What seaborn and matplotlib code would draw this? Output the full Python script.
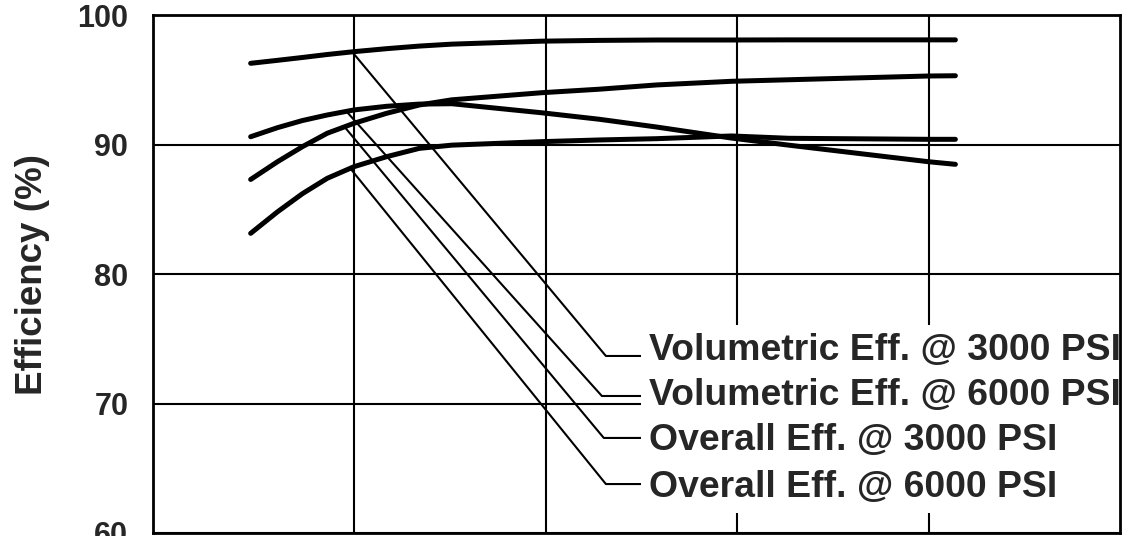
import numpy as np
import pandas as pd
import matplotlib
matplotlib.use("Agg")
import matplotlib.pyplot as plt
import seaborn as sns

# x positions (grid lines sit at 1, 2, 3, 4)
speed = [0.46, 0.6, 0.73, 0.86, 1.0, 1.17, 1.34, 1.51, 1.98, 2.28, 2.58, 2.97, 3.27, 4.0, 4.14]

vol_3000 = [96.27, 96.5, 96.72, 96.95, 97.17, 97.4, 97.6, 97.75, 97.98, 98.04, 98.07, 98.07, 98.08, 98.08, 98.08]
vol_6000 = [90.6, 91.3, 91.85, 92.28, 92.67, 92.95, 93.12, 93.15, 92.45, 91.95, 91.35, 90.5, 89.95, 88.67, 88.47]
ovr_3000 = [87.3, 88.67, 89.83, 90.87, 91.64, 92.41, 93.05, 93.45, 94.0, 94.27, 94.6, 94.88, 95.0, 95.29, 95.31]
ovr_6000 = [83.14, 84.8, 86.2, 87.39, 88.29, 89.06, 89.7, 89.95, 90.22, 90.35, 90.45, 90.66, 90.48, 90.40, 90.40]

labels = ["Volumetric Eff. @ 3000 PSI", "Volumetric Eff. @ 6000 PSI",
          "Overall Eff. @ 3000 PSI", "Overall Eff. @ 6000 PSI"]
series = [vol_3000, vol_6000, ovr_3000, ovr_6000]

y_ticks = [60, 70, 80, 90, 100]
x_grid = [1, 2, 3, 4]

rows = []
for name, vals in zip(labels, series):
    for xv, yv in zip(speed, vals):
        rows.append({"speed": xv, "eff": yv, "series": name})
df = pd.DataFrame(rows)

sns.set_style("white")
plt.rcParams["font.family"] = ["Liberation Sans", "DejaVu Sans"]
plt.rcParams["font.weight"] = "bold"

fig = plt.figure(figsize=(11.3, 5.36), dpi=100)
ax = fig.add_axes([0.1354, 0.0056, 0.8558, 0.9664])

sns.lineplot(data=df, x="speed", y="eff", hue="series", units="series",
             estimator=None, sort=False, palette={n: "black" for n in labels},
             linewidth=3.6, legend=False, ax=ax, zorder=3)

ax.set_xlim(-0.05, 5.0)
ax.set_ylim(60, 100)
ax.set_xticks(x_grid)
ax.set_xticklabels([])
ax.set_yticks(y_ticks)
ax.set_yticklabels([str(v) for v in y_ticks])
ax.grid(True, color="black", linewidth=1.5)
ax.tick_params(axis="x", length=0)
ax.tick_params(axis="y", length=10.8, width=1.5, pad=7, labelsize=22, color="black")
for lab in ax.get_yticklabels():
    lab.set_fontweight("bold")
yt = ax.yaxis.get_major_ticks()
yt[0].tick1line.set_visible(False)
yt[-1].tick1line.set_visible(False)
for s in ax.spines.values():
    s.set_color("black")
    s.set_linewidth(2.0)
    s.set_zorder(6)  # frame stays on top of the label boxes
ax.set_xlabel("")
ax.set_ylabel("Efficiency (%)", fontsize=26.5, fontweight="bold")
ax.yaxis.set_label_coords(-0.107, 0.5)

# leader lines from each curve to its label
anchor_x = [0.99, 0.96, 0.95, 0.98]
elbow_x = [2.315, 2.294, 2.304, 2.315]
elbow_y = [73.67, 70.58, 67.34, 63.78]
text_y = [73.36, 69.88, 66.41, 62.78]
for name, vals, ax_x, ex, ey, ty in zip(labels, series, anchor_x, elbow_x, elbow_y, text_y):
    ay = np.interp(ax_x, speed, vals)
    ax.plot([ax_x, ex, 2.497], [ay, ey, ey], color="black", linewidth=1.5, zorder=2)
    ax.text(2.54, ty, name, fontsize=26.9, fontweight="bold", ha="left", va="baseline",
            zorder=5, clip_on=False,
            bbox=dict(boxstyle="square,pad=0.22", facecolor="white", edgecolor="none"))

fig.savefig("out.png", dpi=100)
